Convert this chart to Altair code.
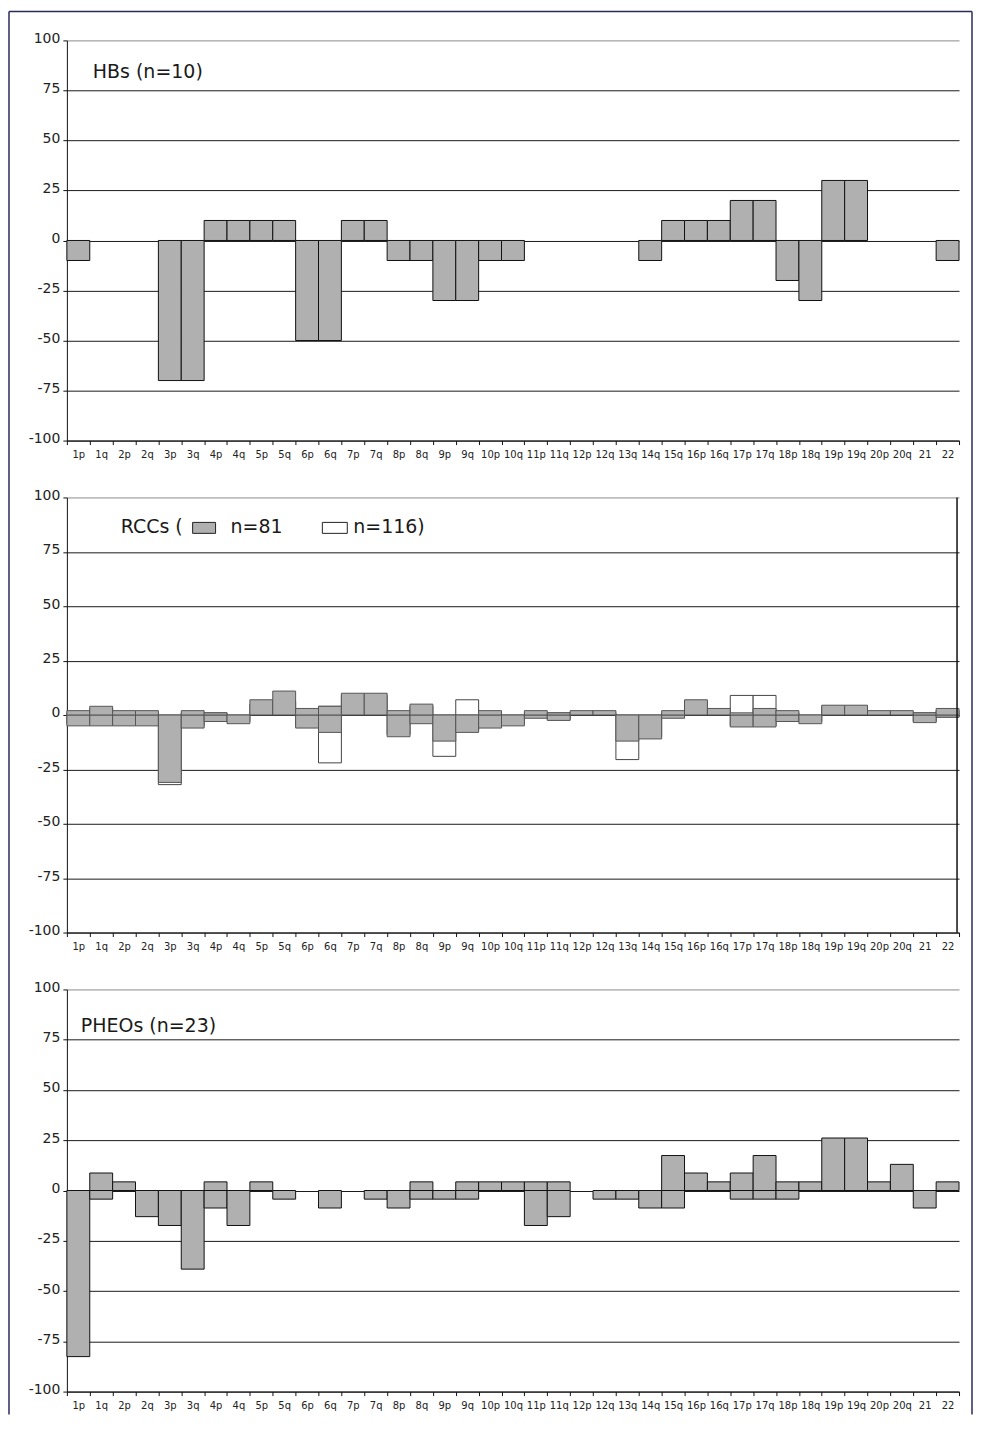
import altair as alt
import pandas as pd

cats = ["1p", "1q", "2p", "2q", "3p", "3q", "4p", "4q", "5p", "5q", "6p", "6q", "7p", "7q",
        "8p", "8q", "9p", "9q", "10p", "10q", "11p", "11q", "12p", "12q", "13q", "14q", "15q",
        "16p", "16q", "17p", "17q", "18p", "18q", "19p", "19q", "20p", "20q", "21", "22"]

# HBs (n=10): % gain / loss per arm
hb_gain = [0, 0, 0, 0, 0, 0, 10, 10, 10, 10, 0, 0, 10, 10, 0, 0, 0, 0, 0, 0,
           0, 0, 0, 0, 0, 0, 10, 10, 10, 20, 20, 0, 0, 30, 30, 0, 0, 0, 0]
hb_loss = [-10, 0, 0, 0, -70, -70, 0, 0, 0, 0, -50, -50, 0, 0, -10, -10, -30, -30, -10, -10,
           0, 0, 0, 0, 0, -10, 0, 0, 0, 0, 0, -20, -30, 0, 0, 0, 0, 0, -10]

# RCCs, grey series (n=81)
rcc81_gain = [2, 4, 2, 2, 0, 2, 1, 0, 7, 11, 3, 4, 10, 10, 2, 5, 0, 0, 2, 0,
              2, 1, 2, 2, 0, 0, 2, 7, 3, 1, 3, 2, 0, 4.5, 4.5, 2, 2, 1, 3]
rcc81_loss = [-5, -5, -5, -5, -31, -6, -3, -4, 0, 0, -6, -8, 0, 0, -10, -4, -12, -8, -6, -5,
              -1.5, -2.5, 0, 0, -12, -11, -1.5, 0, 0, -5.5, -5.5, -3, -4, 0, 0, 0, 0, -3.5, -1]
# RCCs, white series (n=116)
rcc116_gain = [1, 3, 1, 1, 0, 1, 1, 0, 5, 6, 2, 4, 9, 9, 1, 4, 0, 7, 1, 0,
               1, 1, 1, 1, 0, 0, 1, 6, 2, 9, 9, 1, 0, 4, 4, 1, 1, 1, 2]
rcc116_loss = [-4, -4, -4, -4, -32, -5, -2, -3, 0, 0, -5, -22, 0, 0, -9, -3, -19, -7, -5, -4,
               -1, -2, 0, 0, -20.5, -10, -1, 0, 0, -5, -5, -2, -3, 0, 0, 0, 0, -3, -1]

# PHEOs (n=23)
pheo_gain = [0, 8.7, 4.3, 0, 0, 0, 4.3, 0, 4.3, 0, 0, 0, 0, 0, 0, 4.3, 0, 4.3, 4.3, 4.3,
             4.3, 4.3, 0, 0, 0, 0, 17.4, 8.7, 4.3, 8.7, 17.4, 4.3, 4.3, 26.1, 26.1, 4.3, 13.0, 0, 4.3]
pheo_loss = [-82.6, -4.3, 0, -13.0, -17.4, -39.1, -8.7, -17.4, 0, -4.3, 0, -8.7, 0, -4.3, -8.7, -4.3, -4.3, -4.3, 0, 0,
             -17.4, -13.0, 0, -4.3, -4.3, -8.7, -8.7, 0, 0, -4.3, -4.3, -4.3, 0, 0, 0, 0, 0, -8.7, 0]

y_ticks = [-100, -75, -50, -25, 0, 25, 50, 75, 100]

W = 894
H1, H2, H3 = 401, 436, 403
FONT = "DejaVu Sans"
GREY = "#b0b0b0"
NAVY = "#2b2b5e"

hb_df = pd.DataFrame({"cat": cats, "gain": hb_gain, "loss": hb_loss})
rcc_df = pd.DataFrame({"cat": cats, "g81": rcc81_gain, "l81": rcc81_loss,
                       "g116": rcc116_gain, "l116": rcc116_loss})
pheo_df = pd.DataFrame({"cat": cats, "gain": pheo_gain, "loss": pheo_loss})
one = pd.DataFrame({"a": [0]})

X_AXIS = alt.Axis(title=None, labelAngle=0, tickBand="extent", tickSize=4, tickColor="#111",
                  domainColor="#111", labelFontSize=10, labelPadding=5, labelColor="#222",
                  grid=False, labelFont=FONT)
Y_AXIS = alt.Axis(title=None, values=y_ticks, grid=True, labelExpr="'' + datum.value",
                  gridColor={"condition": {"test": "datum.value == 100", "value": "#8a8a8a"},
                             "value": "#1a1a1a"},
                  gridOpacity=1, gridWidth=1, tickSize=4, tickColor="#111", domainColor="#111",
                  labelFontSize=14, labelPadding=3, labelColor="#222", labelFont=FONT,
                  labelOffset=-2)


def bar_layer(df, field, fill, stroke):
    return alt.Chart(df).transform_filter(f"datum['{field}'] != 0").mark_rect(
        fill=fill, stroke=stroke, strokeWidth=1).encode(
        x=alt.X("cat:N", scale=alt.Scale(domain=cats, paddingInner=0, paddingOuter=0), axis=X_AXIS),
        y=alt.Y(f"{field}:Q", scale=alt.Scale(domain=[-100, 100], nice=False, zero=False), axis=Y_AXIS),
        y2=alt.datum(0))


def label(text, x, y, size=19):
    return alt.Chart(pd.DataFrame({"t": [text]})).mark_text(
        align="left", baseline="middle", fontSize=size, font=FONT, color="#1a1a1a").encode(
        x=alt.value(x), y=alt.value(y), text="t:N")


def swatch(x1, x2, y1, y2, fill):
    return alt.Chart(one).mark_rect(fill=fill, stroke="#222", strokeWidth=1).encode(
        x=alt.value(x1), x2=alt.value(x2), y=alt.value(y1), y2=alt.value(y2))


# outer frame of the figure
frame_left = alt.Chart(one).mark_rule(color=NAVY, strokeWidth=1.5).encode(
    x=alt.value(-58), y=alt.value(-29), y2=alt.value(1377))
frame_top = alt.Chart(one).mark_rule(color=NAVY, strokeWidth=1.5).encode(
    x=alt.value(-58), x2=alt.value(907), y=alt.value(-29))
frame_right = alt.Chart(one).mark_rule(color=NAVY, strokeWidth=1.5).encode(
    x=alt.value(907), y=alt.value(-29), y2=alt.value(1377))

p1 = alt.layer(
    bar_layer(hb_df, "loss", GREY, "#111"),
    bar_layer(hb_df, "gain", GREY, "#111"),
    label("HBs (n=10)", 26, 32),
    frame_left, frame_top, frame_right,
).properties(width=W, height=H1)

p2_right = alt.Chart(one).mark_rule(color="#111", strokeWidth=1.5).encode(
    x=alt.value(892), y=alt.value(0), y2=alt.value(H2))

p2 = alt.layer(
    bar_layer(rcc_df, "l116", "white", "#444"),
    bar_layer(rcc_df, "g116", "white", "#444"),
    bar_layer(rcc_df, "l81", GREY, "#555"),
    bar_layer(rcc_df, "g81", GREY, "#555"),
    label("RCCs (", 54, 30),
    swatch(126, 149, 25, 36, GREY),
    label("n=81", 164, 30),
    swatch(256, 281, 25, 36, "white"),
    label("n=116)", 287, 30),
    p2_right,
).properties(width=W, height=H2)

p3 = alt.layer(
    bar_layer(pheo_df, "loss", GREY, "#111"),
    bar_layer(pheo_df, "gain", GREY, "#111"),
    label("PHEOs  (n=23)", 14, 37),
).properties(width=W, height=H3)

chart = alt.vconcat(p1, p2, p3, spacing=57, bounds="flush").properties(
    padding={"left": 0, "top": 1, "right": 0, "bottom": 0}
).configure(font=FONT).configure_view(stroke=None)

chart.save("out.html", embed_options={"renderer": "svg", "actions": False})
